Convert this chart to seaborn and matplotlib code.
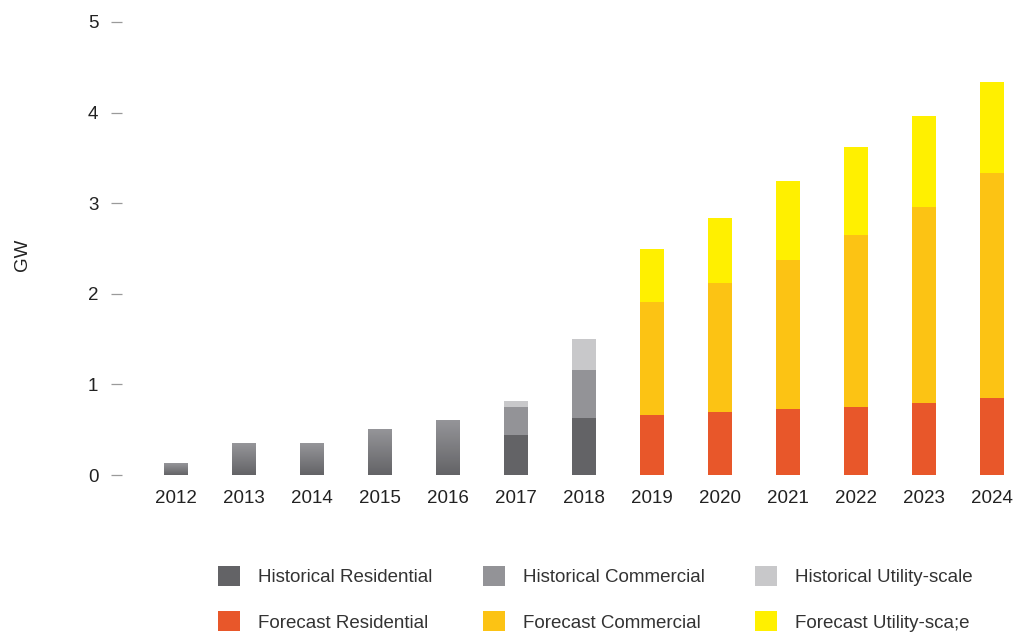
import numpy as np
import pandas as pd
import matplotlib
matplotlib.use("Agg")
import matplotlib.pyplot as plt
from matplotlib.colors import LinearSegmentedColormap
from matplotlib.patches import Patch
import seaborn as sns

# Annual installations (GW)
years = [str(y) for y in range(2012, 2025)]
early_years = years[:5]
early_total = [0.13, 0.35, 0.35, 0.51, 0.61]

split_years = years[5:]
period = ["Historical", "Historical"] + ["Forecast"] * 6
residential = [0.44, 0.63, 0.66, 0.70, 0.73, 0.75, 0.79, 0.85]
commercial = [0.31, 0.53, 1.25, 1.42, 1.64, 1.90, 2.17, 2.48]
utility = [0.07, 0.34, 0.58, 0.72, 0.87, 0.97, 1.00, 1.01]

colors = {
    ("Historical", "Residential"): "#636366",
    ("Historical", "Commercial"): "#939397",
    ("Historical", "Utility-scale"): "#c8c8ca",
    ("Forecast", "Residential"): "#e8572a",
    ("Forecast", "Commercial"): "#fcc314",
    ("Forecast", "Utility-scale"): "#fff000",
}

sns.set_theme(style="white")
plt.rcParams["font.family"] = ["Liberation Sans", "DejaVu Sans"]

df = pd.DataFrame({
    "year": split_years,
    "period": period,
    "Residential": residential,
    "Commercial": commercial,
    "Utility-scale": utility,
})
df["cum_res"] = df["Residential"]
df["cum_com"] = df["cum_res"] + df["Commercial"]
df["cum_util"] = df["cum_com"] + df["Utility-scale"]

early = pd.DataFrame({"year": early_years, "total": early_total})

fig = plt.figure(figsize=(10.13, 6.36), dpi=100)
ax = fig.add_axes([122 / 1013, 161 / 636, 891 / 1013, 453 / 636])

bar_w = 0.35

# Early years: totals only, shaded with a vertical gradient
n0 = len(ax.patches)
sns.barplot(data=early, x="year", y="total", order=years, color="#7b7b7e",
            saturation=1, width=bar_w, errorbar=None, linewidth=0, ax=ax)
early_bars = ax.patches[n0:]

# Stacked layers for the split years, drawn from the cumulative top down
for layer, col in [("Utility-scale", "cum_util"),
                   ("Commercial", "cum_com"),
                   ("Residential", "cum_res")]:
    pal = {p: colors[(p, layer)] for p in ["Historical", "Forecast"]}
    sns.barplot(data=df, x="year", y=col, hue="period", palette=pal,
                saturation=1, order=years, dodge=False, width=bar_w,
                errorbar=None, linewidth=0, legend=False, ax=ax)

cmap = LinearSegmentedColormap.from_list("grey_fade", ["#636366", "#96969a"])
grad = np.linspace(0, 1, 256).reshape(-1, 1)
for bar in early_bars:
    x0, y0 = bar.get_x(), bar.get_y()
    w, h = bar.get_width(), bar.get_height()
    if h <= 0:
        continue
    im = ax.imshow(grad, extent=[x0, x0 + w, y0, y0 + h], origin="lower",
                   cmap=cmap, aspect="auto", zorder=bar.get_zorder())
    im.set_clip_path(bar)
    bar.set_facecolor("none")

ax.set_xlim(-0.794, 12.309)
ax.set_ylim(0, 5)
ax.set_yticks([0, 1, 2, 3, 4, 5])
ax.set_yticklabels(["0", "1", "2", "3", "4", "5"])
sns.despine(ax=ax, left=True, bottom=True)

ax.tick_params(axis="y", direction="out", length=8, width=0.9, color="#9a9a9a",
               pad=9, labelsize=13.5, labelcolor="#222222", left=True)
ax.tick_params(axis="x", length=0, pad=11, labelsize=13.5, labelcolor="#222222")
ax.set_xlabel("")
ax.set_ylabel("GW", fontsize=13.5, color="#222222")
ax.yaxis.set_label_coords(-0.102, 0.486)

# Legend: historical row on top, forecast row below
order = [("Historical", "Residential"), ("Forecast", "Residential"),
         ("Historical", "Commercial"), ("Forecast", "Commercial"),
         ("Historical", "Utility-scale"), ("Forecast", "Utility-scale")]
labels = {
    ("Historical", "Residential"): "Historical Residential",
    ("Historical", "Commercial"): "Historical Commercial",
    ("Historical", "Utility-scale"): "Historical Utility-scale",
    ("Forecast", "Residential"): "Forecast Residential",
    ("Forecast", "Commercial"): "Forecast Commercial",
    ("Forecast", "Utility-scale"): "Forecast Utility-sca;e",
}
handles = [Patch(facecolor=colors[k], edgecolor="none") for k in order]
fig.legend(handles, [labels[k] for k in order], ncol=3,
           loc="upper left", bbox_to_anchor=(218 / 1013, 1 - 566 / 636),
           frameon=False, fontsize=13.5, labelcolor="#333333",
           handlelength=1.17, handleheight=1.23, handletextpad=0.96,
           columnspacing=2.7, labelspacing=1.35, borderpad=0, borderaxespad=0)

fig.savefig("out.png", dpi=100)
